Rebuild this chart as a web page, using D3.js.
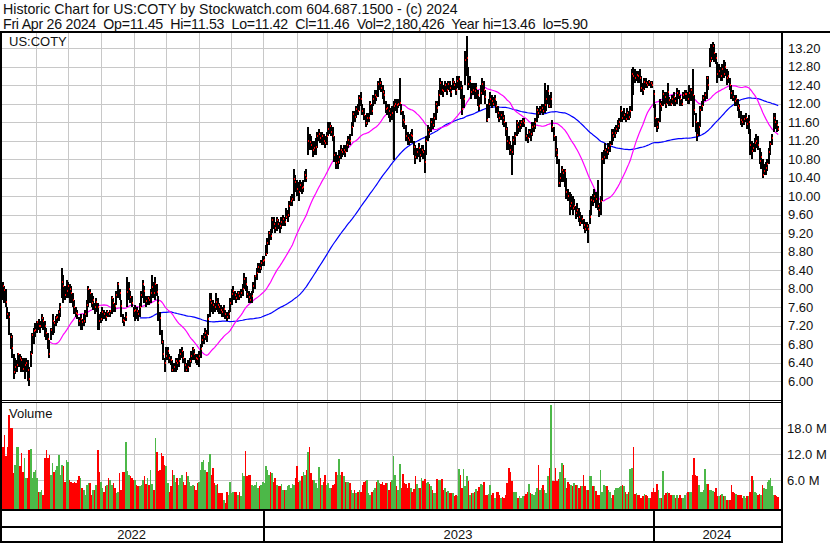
<!DOCTYPE html>
<html><head><meta charset="utf-8">
<script src="https://cdn.jsdelivr.net/npm/d3@7/dist/d3.min.js"></script>
<style>
body{margin:0;background:#fff;}
svg{display:block;font-family:"Liberation Sans",Arial,sans-serif;}
</style></head><body>
<svg id="c" width="830" height="543"></svg>
<script>
// ---------- DATA ----------
const titleLine = "Historic Chart for US:COTY by Stockwatch.com 604.687.1500 - (c) 2024";
const infoLine = "Fri Apr 26 2024  Op=11.45  Hi=11.53  Lo=11.42  Cl=11.46  Vol=2,180,426  Year hi=13.46  lo=5.90";
const symbol = "US:COTY";

const closes = [
8.13,8.05,7.98,7.72,7.45,7.40,6.95,6.73,6.20,6.30,
6.35,6.58,6.50,6.47,6.27,6.36,6.40,6.25,6.05,6.60,
7.00,7.09,7.10,7.28,7.19,7.20,7.37,7.30,7.20,7.05,
6.91,6.58,7.10,7.31,7.25,7.37,7.40,7.50,7.60,8.15,
8.05,7.86,7.95,8.05,8.00,7.90,7.75,7.60,7.48,7.45,
7.30,7.35,7.28,7.30,7.45,7.65,7.99,7.90,7.70,7.75,
7.60,7.71,7.60,7.30,7.35,7.50,7.45,7.40,7.49,7.45,
7.52,7.80,7.70,7.62,7.87,8.10,7.90,7.62,7.33,7.30,
7.40,7.94,8.00,7.82,7.70,7.51,7.55,7.53,7.45,7.60,
7.87,8.10,7.95,7.73,7.80,7.75,7.90,8.04,7.90,8.10,
7.93,7.70,7.36,6.84,6.60,6.40,6.55,6.66,6.50,6.45,
6.25,6.30,6.44,6.40,6.44,6.60,6.65,6.50,6.35,6.25,
6.30,6.43,6.55,6.69,6.60,6.50,6.49,6.55,6.70,6.89,
6.95,7.05,7.00,7.35,7.75,7.70,7.64,7.60,7.71,7.65,
7.60,7.55,7.50,7.56,7.45,7.40,7.45,7.70,7.89,7.95,
7.87,7.80,7.90,7.85,7.90,8.00,8.22,8.10,7.89,7.82,
7.76,7.85,8.05,8.27,8.35,8.47,8.45,8.55,8.60,8.62,
8.76,9.00,9.20,9.15,9.49,9.40,9.31,9.49,9.40,9.35,
9.45,9.50,9.45,9.56,9.60,9.80,9.90,9.95,10.38,10.30,
10.15,10.10,10.25,10.18,10.20,10.45,10.40,11.20,11.18,11.10,
11.00,11.05,11.07,11.30,11.35,11.25,11.30,11.20,11.15,11.30,
11.45,11.51,11.40,11.30,10.90,10.71,10.75,10.85,11.00,10.96,
11.00,10.96,11.10,11.22,11.20,11.50,11.77,11.72,11.88,11.85,
12.13,12.10,11.84,11.75,11.58,11.69,11.70,12.00,11.85,12.10,
12.20,12.15,12.42,12.45,12.35,12.25,12.20,11.88,11.90,11.85,
11.75,11.80,11.95,12.00,11.97,12.00,12.02,11.85,11.65,11.60,
11.30,11.25,11.22,11.33,11.30,11.07,10.85,10.95,11.05,10.90,
11.00,10.95,10.75,11.20,11.44,11.35,11.60,11.55,11.70,11.99,
11.90,12.20,12.46,12.30,12.28,12.40,12.30,12.42,12.35,12.25,
12.47,12.40,12.30,12.50,12.53,12.35,11.88,12.10,12.95,12.98,
12.42,12.50,12.25,12.30,12.28,12.34,12.20,11.95,12.24,12.42,
12.30,12.15,11.66,12.00,12.10,12.05,12.00,12.10,11.95,11.80,
11.70,11.75,11.70,11.60,11.45,11.20,11.15,11.00,10.95,11.22,
11.30,11.58,11.50,11.55,11.60,11.62,11.58,11.30,11.25,11.40,
11.35,11.50,11.51,11.60,11.87,11.80,11.87,11.90,11.85,11.98,
12.10,12.27,11.95,12.10,11.50,11.30,11.00,10.90,10.28,10.40,
10.57,10.50,10.55,10.10,10.00,9.78,9.85,9.75,9.80,9.63,
9.70,9.55,9.42,9.50,9.38,9.30,9.35,9.30,9.55,9.92,
9.90,10.00,9.95,9.78,9.70,9.90,10.80,10.85,11.00,10.95,
11.05,11.10,11.37,11.30,11.37,11.45,11.51,11.60,11.84,11.70,
11.75,11.68,11.80,11.72,11.85,12.65,12.60,12.56,12.62,12.60,
12.56,12.35,12.29,12.47,12.45,12.40,12.47,12.44,12.40,12.22,
11.70,11.49,11.60,12.00,11.95,12.22,12.15,12.00,12.25,12.09,
12.00,12.10,12.15,12.05,12.24,12.20,12.10,12.00,12.20,12.22,
12.22,12.10,12.24,12.30,12.20,11.87,11.60,11.33,11.50,11.87,
11.95,12.13,12.20,12.56,12.40,12.93,13.00,13.24,13.10,12.98,
12.65,12.70,12.60,12.75,12.65,12.80,12.56,12.60,12.40,12.24,
12.15,12.07,12.10,11.96,11.90,11.65,11.60,11.67,11.70,11.56,
11.60,11.10,10.98,11.05,11.15,11.20,11.10,10.76,10.85,10.47,
10.55,10.62,10.70,10.95,11.13,11.25,11.69,11.60,11.55,11.46
];

const highs = [
8.20,8.15,8.05,8.00,7.60,7.50,7.05,7.00,6.60,6.50,
6.45,6.62,6.60,6.55,6.50,6.50,6.50,6.45,6.30,6.65,
7.05,7.15,7.25,7.30,7.35,7.30,7.45,7.40,7.30,7.15,
7.05,6.90,7.15,7.45,7.30,7.42,7.45,7.55,7.70,8.45,
8.30,8.05,8.20,8.15,8.10,8.05,7.90,7.75,7.60,7.55,
7.40,7.45,7.35,7.45,7.55,7.75,8.05,8.00,7.90,7.85,
7.70,7.80,7.70,7.45,7.50,7.60,7.55,7.50,7.55,7.50,
7.55,7.85,7.80,7.70,7.95,8.15,8.00,7.75,7.45,7.40,
7.50,8.25,8.15,7.95,7.85,7.60,7.65,7.60,7.55,7.70,
7.95,8.20,8.05,7.85,7.85,7.85,8.00,8.30,8.15,8.25,
8.10,7.85,7.50,7.10,6.90,6.50,6.75,6.75,6.60,6.55,
6.45,6.40,6.50,6.50,6.60,6.70,6.75,6.65,6.50,6.40,
6.45,6.50,6.65,6.75,6.70,6.60,6.60,6.65,6.80,7.00,
7.05,7.15,7.10,7.45,7.90,7.90,7.75,7.70,7.90,7.80,
7.70,7.65,7.60,7.65,7.55,7.50,7.55,7.80,8.00,8.05,
7.95,7.90,7.95,7.95,8.00,8.10,8.35,8.25,8.05,7.95,
7.90,7.95,8.15,8.30,8.45,8.55,8.55,8.62,8.70,8.70,
8.95,9.10,9.25,9.30,9.55,9.55,9.45,9.55,9.50,9.45,
9.55,9.60,9.55,9.75,9.70,9.90,10.00,10.05,10.60,10.45,
10.35,10.30,10.35,10.30,10.35,10.55,10.60,11.50,11.35,11.30,
11.20,11.20,11.25,11.40,11.45,11.40,11.40,11.35,11.30,11.40,
11.60,11.60,11.55,11.50,11.30,10.95,10.90,11.00,11.10,11.05,
11.10,11.10,11.20,11.30,11.35,11.60,11.85,11.85,11.95,12.00,
12.20,12.25,12.00,11.90,11.75,11.80,11.80,12.05,12.00,12.20,
12.30,12.30,12.50,12.55,12.50,12.40,12.30,12.05,12.00,12.00,
11.90,11.95,12.05,12.10,12.10,12.10,12.55,12.00,11.85,11.75,
11.55,11.40,11.35,11.40,11.45,11.20,11.10,11.05,11.15,11.05,
11.10,11.10,11.00,11.30,11.55,11.50,11.70,11.70,11.80,12.05,
12.05,12.30,12.55,12.50,12.40,12.50,12.45,12.50,12.50,12.40,
12.55,12.50,12.45,12.60,12.60,12.50,12.40,12.20,13.15,13.46,
12.80,12.60,12.45,12.45,12.45,12.45,12.30,12.15,12.40,12.55,
12.50,12.30,12.00,12.10,12.25,12.20,12.15,12.20,12.05,11.95,
11.85,11.85,11.85,11.75,11.60,11.50,11.30,11.20,11.10,11.30,
11.40,11.65,11.60,11.65,11.65,11.70,11.70,11.50,11.35,11.45,
11.45,11.60,11.60,11.70,11.95,11.90,11.95,12.00,12.00,12.45,
12.30,12.40,12.20,12.25,11.65,11.50,11.30,11.05,10.80,10.50,
10.65,10.60,10.60,10.40,10.15,10.10,10.05,10.00,9.95,9.80,
9.85,9.75,9.65,9.60,9.50,9.45,9.45,9.40,9.70,10.00,
10.05,10.15,10.10,10.35,9.85,10.00,10.95,11.00,11.15,11.05,
11.15,11.20,11.45,11.45,11.50,11.55,11.65,11.70,11.95,11.85,
11.90,11.80,11.90,11.85,11.95,12.75,12.80,12.75,12.70,12.70,
12.75,12.60,12.45,12.55,12.55,12.50,12.52,12.50,12.50,12.30,
12.00,11.70,11.70,12.10,12.05,12.30,12.25,12.25,12.45,12.15,
12.10,12.20,12.25,12.15,12.35,12.30,12.20,12.10,12.25,12.30,
12.30,12.25,12.40,12.35,12.75,12.20,11.80,11.60,11.60,11.95,
12.05,12.20,12.25,12.60,12.60,13.20,13.30,13.33,13.30,13.10,
12.90,12.85,12.80,12.85,12.95,12.90,12.75,12.70,12.55,12.40,
12.30,12.20,12.20,12.10,12.00,11.85,11.75,11.75,11.80,11.70,
11.75,11.45,11.20,11.15,11.25,11.35,11.30,11.05,10.95,10.80,
10.70,10.75,10.80,11.05,11.20,11.35,11.80,11.80,11.65,11.53
];

const lows = [
8.05,7.75,7.70,7.60,7.35,7.00,6.70,6.50,6.05,6.15,
6.20,6.30,6.30,6.20,6.20,6.05,6.20,6.00,5.90,6.30,
6.60,6.80,6.95,7.05,7.10,7.05,7.15,7.10,6.95,6.90,
6.70,6.50,6.90,7.00,7.05,7.20,7.25,7.30,7.40,7.80,
7.70,7.75,7.80,7.80,7.70,7.70,7.60,7.45,7.40,7.35,
7.20,7.10,7.10,7.20,7.25,7.40,7.60,7.70,7.60,7.55,
7.45,7.50,7.10,7.10,7.25,7.30,7.35,7.30,7.40,7.38,
7.40,7.45,7.50,7.50,7.65,7.80,7.75,7.40,7.25,7.20,
7.30,7.60,7.75,7.70,7.60,7.40,7.30,7.35,7.30,7.40,
7.60,7.80,7.70,7.60,7.65,7.65,7.70,7.80,7.80,7.75,
7.85,7.30,7.00,6.80,6.45,6.20,6.45,6.45,6.40,6.35,
6.20,6.20,6.20,6.25,6.30,6.45,6.50,6.40,6.20,6.20,
6.20,6.30,6.40,6.45,6.45,6.40,6.35,6.30,6.50,6.75,
6.80,6.90,6.85,7.00,7.40,7.50,7.45,7.50,7.55,7.50,
7.45,7.45,7.40,7.40,7.35,7.30,7.35,7.50,7.65,7.75,
7.75,7.70,7.75,7.75,7.80,7.85,8.00,7.95,7.80,7.70,
7.70,7.70,7.90,8.00,8.20,8.35,8.35,8.40,8.50,8.50,
8.70,8.75,8.95,9.05,9.20,9.30,9.20,9.25,9.30,9.20,
9.30,9.35,9.35,9.50,9.45,9.55,9.80,9.80,9.90,10.10,
10.00,9.90,10.10,10.05,10.10,10.30,10.30,10.90,11.00,11.00,
10.85,10.90,10.90,11.05,11.20,11.15,11.10,11.10,11.05,11.10,
11.30,11.35,11.30,11.20,10.75,10.60,10.60,10.70,10.80,10.85,
10.90,10.85,10.95,11.05,11.10,11.30,11.50,11.60,11.70,11.75,
11.85,11.95,11.75,11.65,11.50,11.55,11.60,11.75,11.75,11.95,
12.00,12.05,12.15,12.30,12.25,12.10,12.00,11.80,11.75,11.70,
11.60,11.65,10.78,11.85,11.80,11.90,11.95,11.75,11.50,11.45,
11.20,11.10,11.10,11.15,11.15,10.90,10.70,10.80,10.85,10.75,
10.85,10.80,10.50,10.90,11.20,11.25,11.40,11.45,11.50,11.65,
11.80,11.95,12.20,12.20,12.15,12.25,12.20,12.30,12.25,12.15,
12.30,12.30,12.20,12.35,12.30,12.10,11.75,11.90,12.40,12.60,
12.30,12.35,12.10,12.20,12.10,12.10,11.95,11.85,12.00,12.20,
12.20,12.00,11.60,11.70,11.95,11.90,11.95,11.95,11.80,11.70,
11.60,11.65,11.55,11.50,11.30,11.00,11.00,10.90,10.45,10.90,
11.10,11.30,11.35,11.40,11.45,11.50,11.50,11.20,11.15,11.25,
11.20,11.30,11.40,11.45,11.60,11.70,11.75,11.80,11.75,11.80,
11.85,12.00,11.90,11.90,11.40,11.20,10.85,10.70,10.20,10.20,
10.30,10.30,10.20,9.95,9.90,9.60,9.70,9.60,9.70,9.50,
9.55,9.45,9.35,9.40,9.30,9.20,9.25,9.00,9.40,9.60,
9.80,9.85,9.75,9.70,9.55,9.60,9.90,10.70,10.80,10.80,
10.90,10.95,11.10,11.20,11.25,11.35,11.40,11.45,11.60,11.60,
11.65,11.60,11.65,11.65,11.70,11.85,12.20,12.45,12.50,12.45,
12.45,12.25,12.20,12.30,12.35,12.35,12.38,12.35,12.35,11.90,
11.50,11.40,11.45,11.60,11.85,11.95,12.00,11.90,12.00,11.95,
11.95,12.00,11.95,11.95,12.00,12.10,11.95,11.95,12.10,12.10,
12.05,12.00,12.00,12.05,11.50,11.75,11.40,11.20,11.30,11.50,
11.85,11.95,12.05,12.10,12.30,12.80,12.90,12.95,12.90,12.85,
12.45,12.55,12.50,12.50,12.55,12.60,12.40,12.45,12.30,12.10,
12.05,11.95,11.95,11.85,11.70,11.55,11.50,11.55,11.60,11.45,
11.35,10.90,10.80,10.95,10.95,11.05,11.00,10.70,10.60,10.40,
10.45,10.45,10.55,10.70,10.90,11.10,11.40,11.45,11.40,11.42
];

// daily volume, millions of shares
const volumes = [
11.1,13.8,16.5,11.5,13.8,21.1,18.0,18.0,7.7,9.6,
13.8,13.8,9.2,12.3,8.0,11.1,6.5,6.5,13.0,13.3,
6.5,8.0,8.4,6.5,3.4,3.4,3.8,2.7,11.1,13.0,
11.1,11.9,7.3,10.0,8.0,8.4,9.2,11.9,7.3,9.6,
9.2,5.7,10.7,10.3,6.1,5.7,5.3,5.7,5.3,6.1,
6.9,6.5,4.2,3.8,2.7,5.0,5.3,5.3,2.7,3.8,
3.8,5.0,13.0,8.0,5.7,4.2,3.4,4.6,5.0,6.5,
6.1,5.0,5.3,4.2,3.0,3.4,7.7,3.8,8.0,8.0,
14.9,8.2,7.3,6.9,6.5,6.1,6.1,5.0,4.6,4.6,
5.0,6.1,6.9,5.1,6.5,5.0,8.4,5.1,3.8,15.7,
12.6,8.2,8.4,12.3,11.5,9.6,9.2,5.3,3.4,4.6,
8.4,7.3,5.7,6.5,5.0,6.5,7.3,5.7,5.0,8.0,
6.9,5.6,4.6,5.0,4.6,3.8,5.3,5.7,8.4,10.3,
10.7,8.4,8.0,10.3,12.0,7.3,8.8,5.3,5.0,5.1,
3.0,3.0,3.0,1.5,0.7,3.4,2.7,5.6,3.0,3.4,
3.4,3.4,2.7,3.4,2.3,7.7,6.9,12.8,6.9,7.3,
7.3,5.0,4.6,5.0,5.7,4.2,4.6,5.0,5.7,5.3,
9.2,8.4,7.3,8.0,7.7,5.7,6.5,5.0,4.6,4.6,
5.1,3.8,3.8,3.8,4.6,5.0,4.2,5.1,5.0,6.5,
9.2,5.7,5.9,6.9,7.9,7.3,8.4,12.6,13.6,7.7,
6.1,6.1,5.3,4.2,9.0,6.5,5.0,5.7,7.3,5.0,
5.3,4.2,4.2,5.0,5.1,8.0,7.3,11.0,7.3,7.9,
6.9,5.7,5.7,5.6,5.3,3.8,3.0,3.8,3.0,3.4,
3.8,3.4,5.0,5.7,5.9,6.1,3.0,2.7,3.4,3.8,
4.2,5.7,6.1,5.3,5.1,5.6,5.0,5.3,5.3,3.8,
5.6,6.1,11.5,7.3,4.8,3.8,9.7,4.2,7.4,5.3,
5.1,4.2,5.3,4.3,3.4,4.0,7.0,5.1,4.2,4.3,
6.5,5.9,6.3,5.3,5.6,5.1,4.6,3.8,3.0,3.0,
6.3,6.0,6.1,6.3,3.8,4.3,3.4,3.6,3.0,3.0,
3.0,2.3,2.6,2.3,8.6,7.3,4.2,8.6,4.6,6.9,
5.9,2.7,3.0,3.0,3.4,3.9,3.6,4.4,5.1,5.0,
5.7,2.5,2.7,2.8,5.0,2.5,3.0,1.9,3.3,3.4,
2.7,1.9,2.2,2.0,2.7,5.3,8.8,7.9,5.9,3.4,
3.3,3.4,1.9,2.3,1.9,2.3,2.3,2.9,3.4,5.1,
3.0,2.8,2.7,3.4,4.2,9.6,3.8,4.3,5.0,3.8,
3.0,6.9,8.8,23.4,5.9,5.9,8.8,5.9,6.2,7.9,
10.0,9.6,6.5,4.3,5.6,5.1,5.0,4.8,5.3,5.0,
5.0,4.2,4.8,4.6,7.3,4.6,3.8,3.8,6.9,6.9,
4.6,4.6,3.5,2.7,2.7,8.4,3.4,5.0,4.6,4.6,
3.8,3.4,1.9,2.7,3.8,4.2,4.2,4.5,4.8,5.0,
4.6,3.4,2.8,3.4,8.6,8.8,13.8,2.8,3.0,2.7,
2.7,1.9,2.3,2.8,2.7,2.3,2.0,1.9,3.4,4.2,
3.4,5.1,3.8,1.9,1.9,8.2,2.7,3.0,3.4,3.0,
2.7,2.7,2.7,1.9,2.7,1.9,2.7,1.9,1.9,2.7,
3.0,3.3,3.3,3.3,7.3,11.1,7.3,6.9,5.0,3.4,
3.4,3.8,8.6,5.1,5.1,3.8,3.8,3.6,3.4,4.2,
2.3,2.3,2.7,2.8,2.3,2.3,1.5,1.5,1.5,5.0,
3.4,3.0,2.8,2.7,2.7,2.7,1.9,2.3,1.9,2.3,
2.3,3.4,7.1,6.1,3.4,3.0,2.7,2.9,2.7,5.0,
4.2,4.0,5.7,6.1,6.5,4.6,2.7,2.7,2.4,2.2
];

// trading-day position of each month's first gridline (Jun 2022 .. Apr 2024)
const monthLines = [22.35,43.1,63.9,85.5,106.0,127.0,147.8,168.3,190.2,209.4,230.6,250.8,
                    272.4,292.9,314.1,336.0,355.2,377.3,398.3,418.4,440.6,460.6,480.5];
const yearStarts = [168.3, 418.4];           // Jan 2023, Jan 2024
const yearLabels = ["2022","2023","2024"];
const priceTicks = [6.0,6.4,6.8,7.2,7.6,8.0,8.4,8.8,9.2,9.6,10.0,10.4,10.8,11.2,11.6,12.0,12.4,12.8,13.2];
const volumeTicks = [6,12,18];
const maFast = 30, maSlow = 90;

// ---------- LAYOUT ----------
const svg = d3.select("#c");
const plotL = 2, plotR = 781;
const priceTop = 33, priceBot = 400;
const volTop = 402, volBot = 509;

const x = d3.scaleLinear().domain([0, closes.length - 1]).range([1.2, 778.2]);
const y = d3.scaleLinear().domain([6.0, 13.2]).range([381.3, 48.3]);
const vy = d3.scaleLinear().domain([0, 18]).range([506.3, 428.3]);

svg.append("rect").attr("width", 830).attr("height", 543).attr("fill", "#fff");

// header
svg.append("text").attr("x", 3).attr("y", 14).attr("font-size", 14.2).attr("fill", "#111").text(titleLine);
svg.append("text").attr("x", 3).attr("y", 29).attr("font-size", 14.2).attr("fill", "#111")
  .attr("textLength", 585).attr("lengthAdjust", "spacing")
  .style("white-space", "pre").text(infoLine);

const grid = "#c8c8c8";
svg.append("g").selectAll("line").data(priceTicks).join("line")
  .attr("x1", plotL).attr("x2", plotR)
  .attr("y1", d => Math.round(y(d)) + 0.5).attr("y2", d => Math.round(y(d)) + 0.5)
  .attr("stroke", grid).attr("stroke-width", 1);
svg.append("g").selectAll("line").data(volumeTicks).join("line")
  .attr("x1", plotL).attr("x2", plotR)
  .attr("y1", d => Math.round(vy(d)) + 0.5).attr("y2", d => Math.round(vy(d)) + 0.5)
  .attr("stroke", grid).attr("stroke-width", 1);
[[priceTop, priceBot], [volTop, volBot]].forEach(([t, b]) => {
  svg.append("g").selectAll("line").data(monthLines).join("line")
    .attr("x1", d => Math.round(x(d)) + 0.5).attr("x2", d => Math.round(x(d)) + 0.5)
    .attr("y1", t).attr("y2", b)
    .attr("stroke", grid).attr("stroke-width", 1);
});

const defs = svg.append("defs");
defs.append("clipPath").attr("id", "pclip").append("rect")
  .attr("x", plotL).attr("y", priceTop).attr("width", plotR - plotL).attr("height", priceBot - priceTop);
defs.append("clipPath").attr("id", "vclip").append("rect")
  .attr("x", plotL).attr("y", volTop).attr("width", plotR - plotL).attr("height", volBot - volTop);

function sma(arr, n) {
  return arr.map((_, i) => i < n - 1 ? null : d3.mean(arr.slice(i - n + 1, i + 1)));
}
const line = d3.line().defined(d => d[1] != null).x(d => x(d[0])).y(d => y(d[1]));
const pg = svg.append("g").attr("clip-path", "url(#pclip)");
pg.append("path").datum(sma(closes, maSlow).map((v, i) => [i, v]))
  .attr("d", line).attr("fill", "none").attr("stroke", "#0000ff").attr("stroke-width", 1.2);
pg.append("path").datum(sma(closes, maFast).map((v, i) => [i, v]))
  .attr("d", line).attr("fill", "none").attr("stroke", "#ff00ff").attr("stroke-width", 1.2);

const idx = d3.range(closes.length);
pg.append("g").selectAll("rect").data(idx).join("rect")
  .attr("x", i => Math.round(x(i)) - 1)
  .attr("width", 2)
  .attr("y", i => Math.round(y(highs[i])))
  .attr("height", i => Math.max(1, Math.round(y(lows[i])) - Math.round(y(highs[i]))))
  .attr("fill", "#000").attr("shape-rendering", "crispEdges");
pg.append("g").selectAll("rect").data(idx).join("rect")
  .attr("x", i => Math.round(x(i)))
  .attr("width", 1)
  .attr("y", i => Math.round(y(closes[i])) - 1)
  .attr("height", 2)
  .attr("fill", "#ff0000").attr("shape-rendering", "crispEdges");

const vg = svg.append("g").attr("clip-path", "url(#vclip)");
vg.selectAll("rect").data(idx).join("rect")
  .attr("x", i => Math.round(x(i) - 0.78))
  .attr("width", i => Math.max(1, Math.round(x(i) + 0.78) - Math.round(x(i) - 0.78)))
  .attr("y", i => Math.round(vy(volumes[i])))
  .attr("height", i => volBot - Math.round(vy(volumes[i])))
  .attr("fill", i => {
    if (i === 0) return "#ff0000";
    const d = closes[i] - closes[i - 1];
    return d > 0 ? "#4cb848" : d < 0 ? "#ff0000" : "#a8a8a8";
  })
  .attr("shape-rendering", "crispEdges");

const pax = svg.append("g").attr("transform", "translate(783,0)")
  .call(d3.axisRight(y).tickValues(priceTicks).tickFormat(d3.format(".2f")).tickSize(0).tickPadding(5));
const vax = svg.append("g").attr("transform", "translate(782,0)")
  .call(d3.axisRight(vy).tickValues(volumeTicks).tickFormat(d => d.toFixed(1) + " M").tickSize(0).tickPadding(5));
[pax, vax].forEach(a => {
  a.select(".domain").remove();
  a.selectAll("text").attr("font-size", 13).attr("fill", "#111")
    .attr("font-family", "'Liberation Sans', Arial, sans-serif");
});

svg.append("text").attr("x", 9).attr("y", 46).attr("font-size", 13).attr("fill", "#111").text(symbol);
svg.append("text").attr("x", 9).attr("y", 418).attr("font-size", 13).attr("fill", "#111").text("Volume");

const bounds = [0, ...yearStarts.map(d => x(d)), plotR];
svg.append("g").selectAll("text").data(yearLabels).join("text")
  .attr("x", (d, i) => (bounds[i] + bounds[i + 1]) / 2)
  .attr("y", 539).attr("text-anchor", "middle").attr("font-size", 13).attr("fill", "#111").text(d => d);

const fr = svg.append("g").attr("fill", "#000").attr("shape-rendering", "crispEdges");
fr.append("rect").attr("x", 0).attr("y", 31).attr("width", 830).attr("height", 2);
fr.append("rect").attr("x", 0).attr("y", 31).attr("width", 2).attr("height", 512);
fr.append("rect").attr("x", 781).attr("y", 31).attr("width", 2).attr("height", 512);
fr.append("rect").attr("x", 0).attr("y", 400).attr("width", 783).attr("height", 1);
fr.append("rect").attr("x", 0).attr("y", 402).attr("width", 783).attr("height", 1);
fr.append("rect").attr("x", 0).attr("y", 509).attr("width", 783).attr("height", 2);
fr.append("rect").attr("x", 0).attr("y", 526).attr("width", 783).attr("height", 2);
fr.append("rect").attr("x", 0).attr("y", 541).attr("width", 783).attr("height", 2);
yearStarts.forEach(d => {
  fr.append("rect").attr("x", Math.round(x(d))).attr("y", 509).attr("width", 1.5).attr("height", 34);
});
</script>
</body></html>
